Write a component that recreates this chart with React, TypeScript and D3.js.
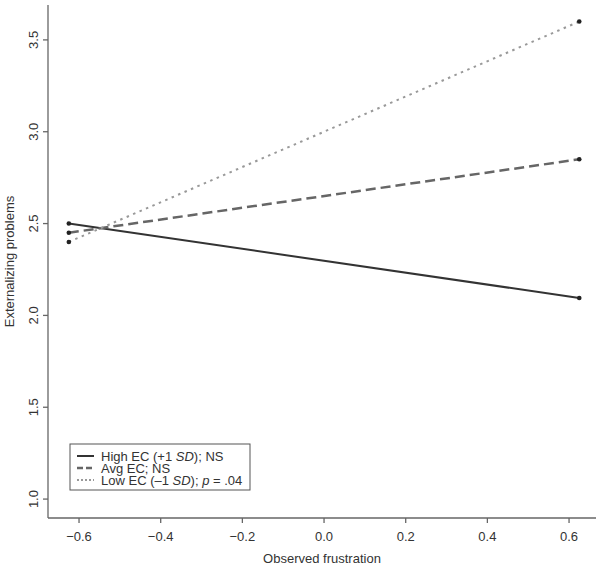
import React from "react";
import * as d3 from "d3";

const frustration = [-0.625, 0.625];
const highEC = [2.5, 2.095];
const avgEC = [2.45, 2.85];
const lowEC = [2.4, 3.6];
const xTicks = [-0.6, -0.4, -0.2, 0.0, 0.2, 0.4, 0.6];
const yTicks = [1.0, 1.5, 2.0, 2.5, 3.0, 3.5];

const fmt = (v: number) => d3.format(".1f")(v).replace("-", "\u2212");

export default function App() {
  const W = 601;
  const H = 570;
  const left = 48;
  const right = 596;
  const top = 5;
  const bottom = 518;

  const x = d3.scaleLinear().domain([-0.676, 0.666]).range([left, right]);
  const y = d3.scaleLinear().domain([0.897, 3.69]).range([bottom, top]);

  const line = d3
    .line<number>()
    .x((d, i) => x(frustration[i]))
    .y((d) => y(d));

  const series = [
    { name: "high", values: highEC, color: "#333", width: 2, dash: "none", legendDash: "none" },
    { name: "avg", values: avgEC, color: "#666", width: 2.5, dash: "10,5", legendDash: "6,3" },
    { name: "low", values: lowEC, color: "#999", width: 2, dash: "2.5,4.5", legendDash: "2,2" },
  ];

  const font = "'Liberation Sans', Arial, sans-serif";
  const axisColor = "#666";
  const textColor = "#333";

  return (
    <svg
      width={W}
      height={H}
      style={{ position: "absolute", left: 0, top: 0, background: "#fff" }}
      fontFamily={font}
    >
      {/* axes */}
      <line x1={left} x2={left} y1={top} y2={bottom} stroke={axisColor} strokeWidth={1.3} />
      <line x1={left} x2={right} y1={bottom} y2={bottom} stroke={axisColor} strokeWidth={1.3} />
      {yTicks.map((t) => (
        <g key={"y" + t}>
          <line x1={left - 5} x2={left} y1={y(t)} y2={y(t)} stroke={axisColor} strokeWidth={1.3} />
          <text
            transform={`translate(${left - 10},${y(t)}) rotate(-90)`}
            textAnchor="middle"
            fontSize={13}
            fill={textColor}
          >
            {fmt(t)}
          </text>
        </g>
      ))}
      {xTicks.map((t) => (
        <g key={"x" + t}>
          <line x1={x(t)} x2={x(t)} y1={bottom} y2={bottom + 5} stroke={axisColor} strokeWidth={1.3} />
          <text x={x(t)} y={bottom + 23} textAnchor="middle" fontSize={13} fill={textColor}>
            {fmt(t)}
          </text>
        </g>
      ))}
      <text
        transform={`translate(14,${(top + bottom) / 2}) rotate(-90)`}
        textAnchor="middle"
        fontSize={13}
        fill={textColor}
      >
        Externalizing problems
      </text>
      <text x={(left + right) / 2} y={563} textAnchor="middle" fontSize={13} fill={textColor}>
        Observed frustration
      </text>

      {/* lines */}
      {series.map((s) => (
        <g key={s.name}>
          <path
            d={line(s.values) || ""}
            fill="none"
            stroke={s.color}
            strokeWidth={s.width}
            strokeDasharray={s.dash}
          />
          {s.values.map((v, i) => (
            <circle key={i} cx={x(frustration[i])} cy={y(v)} r={2.3} fill="#222" />
          ))}
        </g>
      ))}

      {/* legend */}
      <rect x={70} y={444} width={180} height={46} fill="#fff" stroke="#555" strokeWidth={1} />
      {series.map((s, i) => (
        <line
          key={"l" + s.name}
          x1={77}
          x2={94}
          y1={456 + i * 12}
          y2={456 + i * 12}
          stroke={s.color}
          strokeWidth={s.width}
          strokeDasharray={s.legendDash}
        />
      ))}
      <text x={101} y={461} fontSize={13} fill={textColor}>
        High EC (+1 <tspan fontStyle="italic">SD</tspan>); NS
      </text>
      <text x={101} y={473} fontSize={13} fill={textColor}>
        Avg EC; NS
      </text>
      <text x={101} y={485} fontSize={13} fill={textColor}>
        Low EC ({"\u2013"}1 <tspan fontStyle="italic">SD</tspan>); <tspan fontStyle="italic">p</tspan> = .04
      </text>
    </svg>
  );
}
